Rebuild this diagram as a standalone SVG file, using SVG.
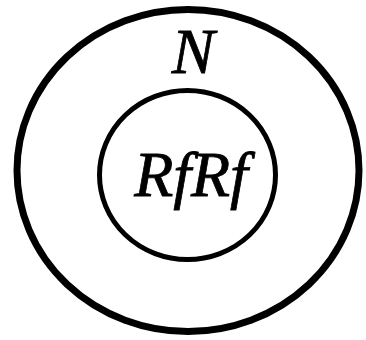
<svg xmlns="http://www.w3.org/2000/svg" width="366" height="340" viewBox="0 0 366 340">
<style>
.ring{fill:none;stroke:#000}
.lbl{font-family:"Liberation Serif","Times New Roman",serif;font-style:italic;font-size:64px;fill:#000;stroke:#000;stroke-width:0.8;text-anchor:middle}
</style>
<rect width="366" height="340" fill="#fff"/>
<g id="outer">
<ellipse class="ring" cx="188" cy="170.5" rx="171" ry="161" stroke-width="7"/>
<text class="lbl" x="193" y="73">N</text>
</g>
<g id="inner">
<ellipse class="ring" cx="187.5" cy="175" rx="88" ry="84.5" stroke-width="5"/>
<text class="lbl" x="191" y="196">RfRf</text>
</g>
<g id="connectors"></g>
</svg>
